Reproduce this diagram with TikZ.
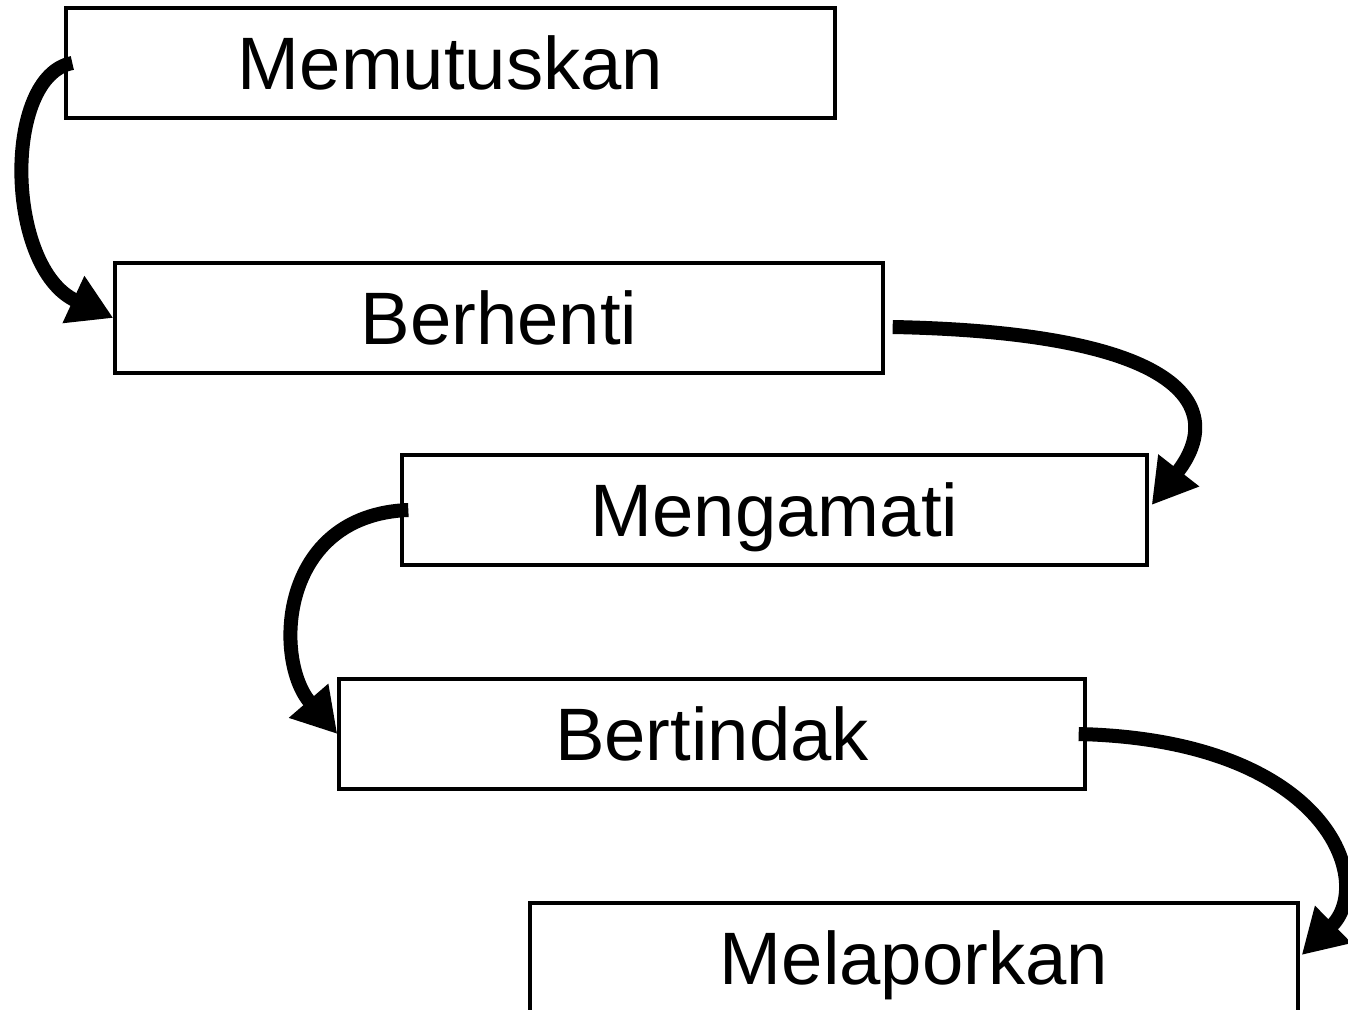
\documentclass[tikz,border=0pt]{standalone}
\usepackage{fontspec}
\setmainfont{Liberation Sans}
\usetikzlibrary{arrows.meta,calc}
\begin{document}
\begin{tikzpicture}[x=0.02cm,y=-0.02cm,
  stepbox/.style={draw=black,line width=0.07cm,fill=white,minimum height=2.2cm,
    inner sep=0pt,text height=30.5pt,text depth=0pt,
    font=\fontsize{42.3}{50}\selectfont},
  flow/.style={line width=0.28cm,-{Triangle[length=0.88cm,width=0.98cm]}}]
\clip (0,0) rectangle (1348,1010);
\fill[white] (0,0) rectangle (1348,1010);
\node[stepbox,minimum width=15.38cm] (m) at (450.5,63) {Memutuskan};
\node[stepbox,minimum width=15.36cm] (b) at (499,318) {Berhenti};
\node[stepbox,minimum width=14.9cm] (g) at (774.5,510) {Mengamati};
\node[stepbox,minimum width=14.92cm] (t) at (712,734) {Bertindak};
\node[stepbox,minimum width=15.36cm] (l) at (914,958) {Melaporkan};
\draw[flow] ($(m.west)+(8,0)$) .. controls +(-70,13) and +(-108,-50) .. (b.west);
\draw[flow] ($(b.east)+(8,9)$) .. controls +(305,6) and +(72,-92) .. ($(g.east)+(3,-5)$);
\draw[flow] ($(g.west)+(8,0)$) .. controls +(-130,5) and +(-64,-74) .. (t.west);
\draw[flow] ($(t.east)+(-8,0)$) .. controls +(250,6) and +(74,-72) .. ($(l.east)+(2,-3)$);
\end{tikzpicture}
\end{document}
